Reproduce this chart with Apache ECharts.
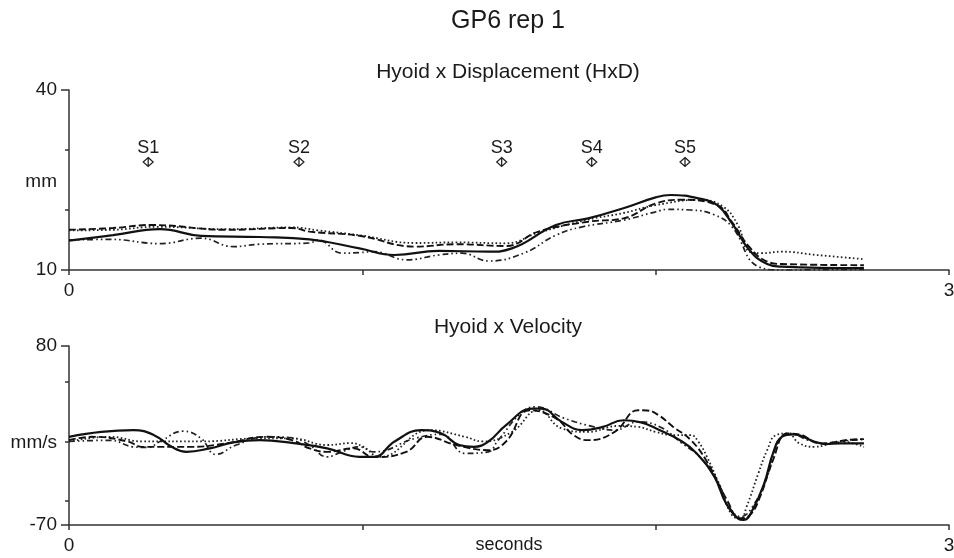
<!DOCTYPE html>
<html>
<head>
<meta charset="utf-8">
<script src="https://cdn.jsdelivr.net/npm/echarts@6/dist/echarts.min.js"></script>
<style>html,body{margin:0;padding:0;background:#fff;}#c{width:954px;height:558px;}</style>
</head>
<body>
<div id="c"></div>
<script>
// ---- Data (time in seconds, value) ----
const mainTitle = 'GP6 rep 1';
const topTitle = 'Hyoid x Displacement (HxD)';
const bottomTitle = 'Hyoid x Velocity';

const markerNames = ['S1', 'S2', 'S3', 'S4', 'S5'];
const markerTimes = [0.27, 0.784, 1.475, 1.782, 2.10];
const markerLevel = 28;

const hxdSolid = [[0,14.9],[0.15,15.8],[0.31,16.8],[0.45,15.7],[0.65,15.5],[0.82,15.1],[0.99,13.6],[1.11,12.5],[1.26,13.2],[1.43,13.05],[1.51,13.6],[1.66,17.5],[1.77,18.6],[1.89,20.3],[2.0,22.1],[2.05,22.5],[2.15,21.9],[2.21,20.8],[2.26,17.8],[2.32,13.3],[2.38,11.0],[2.43,10.55],[2.71,10.3]];
const hxdDashed = [[0,16.7],[0.15,17.0],[0.28,17.5],[0.54,16.7],[0.76,17.0],[0.82,16.4],[0.99,15.7],[1.18,13.9],[1.32,14.3],[1.49,14.0],[1.6,16.4],[1.77,18.05],[1.89,18.6],[2.0,21.1],[2.09,21.7],[2.21,20.8],[2.26,18.0],[2.32,13.8],[2.38,11.4],[2.43,11.0],[2.71,10.8]];
const hxdDotted = [[0,16.6],[0.15,16.7],[0.3,17.2],[0.54,16.8],[0.76,17.1],[0.85,16.6],[0.99,15.8],[1.18,14.5],[1.32,14.6],[1.49,14.45],[1.6,16.2],[1.77,18.4],[1.89,19.5],[2.0,20.8],[2.15,21.7],[2.23,20.55],[2.28,17.5],[2.32,13.05],[2.36,12.8],[2.43,13.05],[2.55,12.5],[2.71,11.8]];
const hxdDashDot = [[0,15.0],[0.14,15.1],[0.31,14.4],[0.45,15.3],[0.56,13.9],[0.65,14.3],[0.82,14.5],[0.85,15.0],[0.93,12.8],[0.99,12.9],[1.04,13.05],[1.15,11.7],[1.26,12.5],[1.34,12.8],[1.43,11.5],[1.55,12.8],[1.66,15.8],[1.75,17.2],[1.89,18.3],[2.0,19.7],[2.04,20.1],[2.12,20.0],[2.2,19.2],[2.26,17.2],[2.35,10.55],[2.43,10.0],[2.71,10.1]];

const velSolid = [[0,3.9],[0.11,8],[0.22,9.5],[0.29,5.3],[0.35,-4.5],[0.4,-8.7],[0.48,-5.8],[0.56,-0.8],[0.65,1.1],[0.76,-1.2],[0.88,-5.8],[0.99,-12.9],[1.04,-12.9],[1.11,0],[1.2,9.5],[1.27,6.7],[1.33,-3],[1.38,-4.5],[1.43,0],[1.49,13.7],[1.58,27.6],[1.61,27.6],[1.68,16.4],[1.75,9.5],[1.82,12.2],[1.89,17.8],[1.95,16],[2.0,11],[2.09,0],[2.14,-10],[2.2,-29.6],[2.24,-51.9],[2.28,-64.4],[2.3,-65.8],[2.33,-57.5],[2.37,-35.1],[2.4,-10],[2.43,3.9],[2.47,5.9],[2.54,0],[2.58,-2.2],[2.63,-1.6],[2.71,-1.6]];
const velDashed = [[0,1.1],[0.08,3.9],[0.2,0],[0.25,-4.5],[0.42,-4.5],[0.54,-1.4],[0.67,3.9],[0.76,1.1],[0.82,-5.8],[0.88,-8.7],[0.97,-5.8],[1.04,-13],[1.15,-8.7],[1.22,3.9],[1.32,-3],[1.43,-7.3],[1.49,0],[1.57,26.2],[1.66,19.3],[1.72,5.3],[1.77,1.1],[1.86,8],[1.94,26.2],[1.97,26],[2.01,22],[2.06,12.2],[2.12,1.1],[2.175,-17],[2.243,-49],[2.288,-64.4],[2.322,-61.6],[2.356,-46.3],[2.4,-15.6],[2.448,6.7],[2.49,5.9],[2.56,-1.6],[2.673,1.7],[2.71,2]];
const velDotted = [[0,0],[0.14,3.9],[0.25,0],[0.45,0],[0.65,2.6],[0.76,2.6],[0.88,-3],[0.96,-1.4],[1.0,-4],[1.06,-12.9],[1.23,9.5],[1.35,3.9],[1.41,0],[1.51,8],[1.6,26.2],[1.68,10.9],[1.77,8],[1.87,13],[1.94,12.2],[2.0,8],[2.06,5.3],[2.12,5.3],[2.145,0],[2.175,-12.9],[2.22,-38],[2.26,-61.6],[2.29,-64.4],[2.31,-54.7],[2.35,-26.8],[2.38,-7.3],[2.41,5.3],[2.45,6.7],[2.49,-1.6],[2.54,-4.5],[2.63,0],[2.71,-4.5]];
const velDashDot = [[0,0],[0.14,1],[0.22,-4.5],[0.27,-5],[0.31,0],[0.39,8.6],[0.45,2.6],[0.5,-10.8],[0.57,-3],[0.67,3.9],[0.76,3],[0.82,-3],[0.88,-12.9],[0.93,-8.7],[0.99,-4.5],[1.04,-8.7],[1.18,2.6],[1.27,6],[1.35,-10],[1.43,-8.7],[1.46,0],[1.545,24.8],[1.59,29],[1.69,19.3],[1.79,12.2],[1.86,9.5],[1.94,16.4],[2.015,12.2],[2.09,-1.6],[2.15,-12.9],[2.21,-32.4],[2.25,-54.7],[2.29,-63],[2.33,-54.7],[2.38,-29.6],[2.42,1.1],[2.46,6.7],[2.52,1.1],[2.58,-1.6],[2.67,1.1],[2.71,1.5]];

// ---- Styling ----
const FONT = 'Liberation Sans';
const INK = '#1a1a1a';
const axisLineStyle = { color: '#333', width: 1.5 };

const styles = {
  solid:   { color: '#111', width: 2.2, type: 'solid' },
  dashed:  { color: '#111', width: 1.9, type: [7, 3] },
  dotted:  { color: '#222', width: 1.8, type: [1.6, 2.4] },
  dashdot: { color: '#222', width: 1.7, type: [6, 3, 1.6, 3, 1.6, 3] }
};

function lineSeries(data, style, gi) {
  return {
    type: 'line', data: data, xAxisIndex: gi, yAxisIndex: gi * 2,
    smooth: 0.45, showSymbol: false, symbol: 'none',
    lineStyle: style, silent: true, z: 3
  };
}

function xAxisDef(gi, withName) {
  return {
    type: 'value', gridIndex: gi, min: 0, max: 3,
    axisLine: { show: true, lineStyle: axisLineStyle, onZero: false },
    axisTick: { show: true, customValues: [0, 1, 2, 3], length: 5, lineStyle: axisLineStyle },
    axisLabel: { customValues: [0, 3], fontSize: 19, color: INK, margin: 11, fontFamily: FONT, hideOverlap: false },
    splitLine: { show: false },
    name: withName ? 'seconds' : '', nameLocation: 'middle', nameGap: 11, nameMoveOverlap: false,
    nameTextStyle: { fontSize: 18, color: INK, fontFamily: FONT, verticalAlign: 'top' }
  };
}

function yAxisMain(gi, min, max, name, lh) {
  return {
    type: 'value', gridIndex: gi, min: min, max: max,
    axisLine: { show: true, lineStyle: axisLineStyle, onZero: false },
    axisTick: { show: true, customValues: [min, max], length: 8, lineStyle: axisLineStyle },
    axisLabel: { customValues: [min, max], fontSize: 19, color: INK, margin: 12, fontFamily: FONT },
    splitLine: { show: false },
    name: name, nameLocation: 'middle', nameRotate: 0, nameGap: 12, nameMoveOverlap: false,
    nameTextStyle: { fontSize: 19, color: INK, fontFamily: FONT, align: 'right', verticalAlign: 'top', lineHeight: lh }
  };
}

function yAxisMinor(gi, min, max, ticks) {
  return {
    type: 'value', gridIndex: gi, min: min, max: max, position: 'left',
    axisLine: { show: false },
    axisTick: { show: true, customValues: ticks, length: 4, lineStyle: axisLineStyle },
    axisLabel: { show: false },
    splitLine: { show: false }
  };
}

const chart = echarts.init(document.getElementById('c'), null, { renderer: 'canvas' });

const option = {
  animation: false,
  backgroundColor: '#fff',
  textStyle: { fontFamily: FONT },
  title: [
    { text: mainTitle, left: 508, textAlign: 'center', top: 9, padding: 0,
      textStyle: { fontSize: 25, fontWeight: 'normal', color: INK, fontFamily: FONT } },
    { text: topTitle, left: 508, textAlign: 'center', top: 62, padding: 0,
      textStyle: { fontSize: 21, fontWeight: 'normal', color: INK, fontFamily: FONT } },
    { text: bottomTitle, left: 508, textAlign: 'center', top: 317, padding: 0,
      textStyle: { fontSize: 21, fontWeight: 'normal', color: INK, fontFamily: FONT } }
  ],
  grid: [
    { left: 69, right: 5, top: 90, height: 180, containLabel: false, outerBoundsMode: 'none' },
    { left: 69, right: 5, top: 346, height: 179, containLabel: false, outerBoundsMode: 'none' }
  ],
  xAxis: [ xAxisDef(0, false), xAxisDef(1, true) ],
  yAxis: [
    yAxisMain(0, 10, 40, 'mm', 4),
    yAxisMinor(0, 10, 40, [20, 30]),
    yAxisMain(1, -70, 80, 'mm/s', 14),
    yAxisMinor(1, -70, 80, [-50, 0, 50])
  ],
  series: [
    lineSeries(hxdDotted, styles.dotted, 0),
    lineSeries(hxdDashDot, styles.dashdot, 0),
    lineSeries(hxdDashed, styles.dashed, 0),
    lineSeries(hxdSolid, styles.solid, 0),
    lineSeries(velDotted, styles.dotted, 1),
    lineSeries(velDashDot, styles.dashdot, 1),
    lineSeries(velDashed, styles.dashed, 1),
    lineSeries(velSolid, styles.solid, 1),
    {
      type: 'scatter', xAxisIndex: 0, yAxisIndex: 0,
      data: markerTimes.map((t, i) => ({ name: markerNames[i], value: [t, markerLevel] })),
      symbol: 'path://M0,-5L5,0L0,5L-5,0ZM0,-5L0,5',
      symbolSize: [10, 9],
      itemStyle: { color: '#fff', borderColor: '#222', borderWidth: 1.2, opacity: 1 },
      label: { show: true, position: 'top', distance: 0, formatter: p => p.name,
               fontSize: 18, color: INK, fontFamily: FONT, opacity: 1, textBorderWidth: 0 },
      silent: true, z: 5
    }
  ]
};
chart.setOption(option);
</script>
</body>
</html>
